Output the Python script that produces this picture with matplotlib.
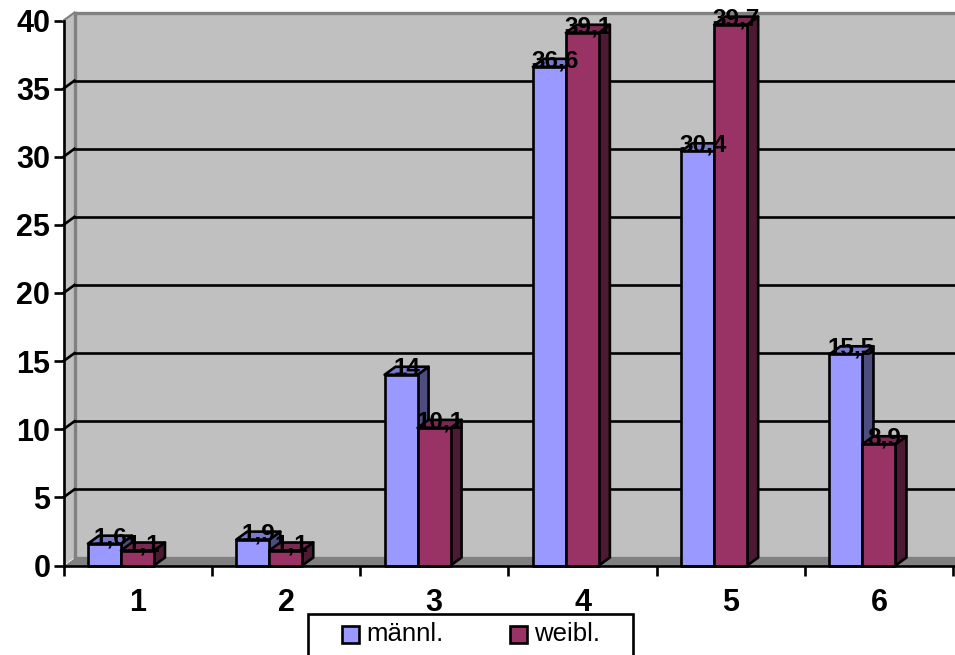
import matplotlib
matplotlib.use("Agg")
import matplotlib.pyplot as plt
from matplotlib.patches import Polygon, Rectangle

plt.rcParams['font.family'] = ['Liberation Sans', 'DejaVu Sans']

categories = ["1", "2", "3", "4", "5", "6"]
maennl = [1.6, 1.9, 14, 36.6, 30.4, 15.5]
weibl = [1.1, 1.1, 10.1, 39.1, 39.7, 8.9]
y_ticks = [0, 5, 10, 15, 20, 25, 30, 35, 40]

W, H = 955, 655
x0_px, y0_px, y40_px = 63.5, 565.5, 20.5
cat_px = 148.3
xmax = (W - x0_px) / cat_px

# 3d look: depth of the columns and of the wall, in data units
dx = 11 / cat_px
dy = 8 / ((y0_px - y40_px) / 40)
bar_w = 33 / cat_px
bar_start = 0.165
line = 1.9

fig = plt.figure(figsize=(W / 100, H / 100), dpi=100)
ax = fig.add_axes([x0_px / W, 1 - y0_px / H, (W - x0_px) / W, (y0_px - y40_px) / H])
ax.set_xlim(0, xmax)
ax.set_ylim(0, 40)
ax.patch.set_visible(False)


def add(points, color, z, edge="none", lw=0):
    ax.add_patch(Polygon(points, closed=True, facecolor=color, edgecolor=edge,
                         linewidth=lw, zorder=z, clip_on=False, joinstyle="round"))


# walls and floor
add([(dx, dy), (xmax, dy), (xmax, 40 + dy), (dx, 40 + dy)], "#C0C0C0", 1)
add([(0, 0), (dx, dy), (dx, 40 + dy), (0, 40)], "#C0C0C0", 1)
add([(0, 0), (xmax, 0), (xmax, dy), (dx, dy)], "#808080", 1.5)
ax.plot([dx, dx], [dy, 40 + dy], color="#808080", lw=2.4, zorder=1.6, clip_on=False)
ax.plot([dx, xmax], [40 + dy, 40 + dy], color="#808080", lw=2.4, zorder=1.6, clip_on=False)
ax.plot([dx, xmax], [dy, dy], color="#808080", lw=2.4, zorder=1.6, clip_on=False)
ax.plot([0, dx], [40, 40 + dy], color="#808080", lw=1.5, zorder=1.6, clip_on=False)

# the top of the wall stays grey, so no gridline at the last tick
for t in y_ticks[1:-1]:
    ax.plot([dx, xmax], [t + dy, t + dy], color="black", lw=line, zorder=2, clip_on=False)
    ax.plot([0, dx], [t, t + dy], color="black", lw=line, zorder=2, clip_on=False)


def column(x, v, front, top, side, z):
    w = bar_w
    add([(x + w, 0), (x + w + dx, dy), (x + w + dx, v + dy), (x + w, v)], side, z, "black", line)
    add([(x, v), (x + w, v), (x + w + dx, v + dy), (x + dx, v + dy)], top, z, "black", line)
    add([(x, 0), (x + w, 0), (x + w, v), (x, v)], front, z + 0.1, "black", line)


def value_label(x, v):
    text = f"{v:g}".replace(".", ",")
    ax.annotate(text, (x + bar_w / 2 + dx / 2, v + dy), xytext=(0, -1.5), textcoords="offset points",
                ha="center", va="center", fontsize=17.5, fontweight="bold", color="black",
                zorder=20, annotation_clip=False)


for i in range(len(categories)):
    x1 = i + bar_start
    x2 = x1 + bar_w
    z = 3 + i
    column(x1, maennl[i], "#9999FF", "#7A7ACC", "#4D4D80", z)
    column(x2, weibl[i], "#993366", "#7A2952", "#4D1A33", z + 0.3)
    value_label(x1, maennl[i])
    value_label(x2, weibl[i])

# axes
for s in ["top", "right"]:
    ax.spines[s].set_visible(False)
for s in ["left", "bottom"]:
    ax.spines[s].set_linewidth(line)
    ax.spines[s].set_zorder(15)

ax.set_yticks(y_ticks)
ax.set_yticklabels([str(t) for t in y_ticks])
ax.tick_params(axis="y", length=7.5, width=line, pad=2, labelsize=22)
ax.set_xticks(range(7))
ax.set_xticklabels([])
ax.tick_params(axis="x", which="major", length=7.5, width=line)
ax.set_xticks([i + 0.5 for i in range(6)], minor=True)
ax.set_xticklabels(categories, minor=True)
ax.tick_params(axis="x", which="minor", length=0, pad=16, labelsize=22)
for lab in ax.get_yticklabels() + ax.get_xticklabels(minor=True):
    lab.set_fontweight("bold")

# legend box runs off the lower edge of the figure
fig.add_artist(Rectangle((307.5 / W, 1 - 670 / H), 325.5 / W, 56 / H, transform=fig.transFigure,
                         facecolor="white", edgecolor="black", linewidth=line, zorder=30))
for label, color, sx, tx in [("männl.", "#9999FF", 342, 366), ("weibl.", "#993366", 510, 534)]:
    fig.add_artist(Rectangle((sx / W, 1 - 642.5 / H), 17 / W, 17 / H, transform=fig.transFigure,
                             facecolor=color, edgecolor="black", linewidth=line, zorder=31))
    fig.text(tx / W, 1 - 634 / H, label, ha="left", va="center", fontsize=18.5, color="black", zorder=31)

fig.savefig("out.png", dpi=100)
